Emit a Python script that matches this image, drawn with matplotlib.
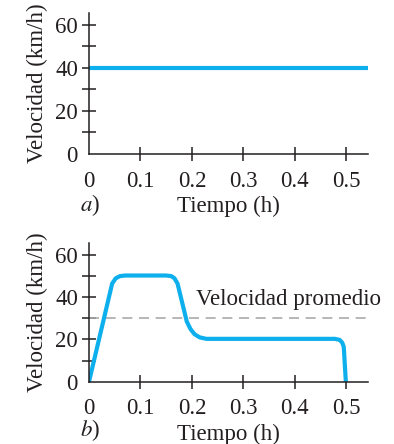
import numpy as np
import matplotlib.pyplot as plt

plt.rcParams['font.family'] = ['Liberation Serif', 'DejaVu Serif']
plt.rcParams['mathtext.fontset'] = 'stix'

# panel a: constant speed
t_a = [0.0, 0.542]
v_a = [40, 40]

# panel b: speed profile
t_b = [0.0, 0.045, 0.052, 0.060, 0.070, 0.150, 0.160, 0.166, 0.172, 0.190, 0.197, 0.205, 0.215, 0.228,
       0.478, 0.487, 0.492, 0.495, 0.499]
v_b = [0, 46.5, 49.0, 50.0, 50.3, 50.3, 50.0, 49.0, 46.5, 28.5, 25.0, 22.5, 21.0, 20.3,
       20.3, 19.8, 18.5, 16.5, 0]
v_avg = 30
t_avg = [0.0, 0.54]

xticks = [0, 0.1, 0.2, 0.3, 0.4, 0.5]
xlabels = ['0', '0.1', '0.2', '0.3', '0.4', '0.5']
yticks = [0, 20, 40, 60]

blue = '#0db0ec'
ink = '#231f20'
fs = 16.5

fig = plt.figure(figsize=(3.94, 4.44), dpi=100)
ax1 = fig.add_axes([0.2259, 0.653, 0.708, 0.3177])
ax2 = fig.add_axes([0.2259, 0.1403, 0.708, 0.3124])


def style(ax, ytop):
    for s in ['top', 'right']:
        ax.spines[s].set_visible(False)
    for s in ['left', 'bottom']:
        ax.spines[s].set_color(ink)
        ax.spines[s].set_linewidth(1.1)
    ax.set_xlim(0, 0.542)
    ax.set_ylim(0, ytop)
    ax.set_xticks(xticks)
    ax.set_xticklabels(xlabels)
    ax.set_yticks(yticks)
    ax.set_yticks([10, 30, 50], minor=True)
    ax.tick_params(direction='inout', length=10, width=1.1, color=ink, labelsize=fs,
                   labelcolor=ink)
    ax.tick_params(which='minor', direction='inout', length=10, width=1.1, color=ink)
    ax.tick_params(axis='x', pad=7)
    ax.tick_params(axis='y', pad=3)
    # no tick marks at the origin
    ax.xaxis.get_major_ticks()[0].tick1line.set_visible(False)
    ax.yaxis.get_major_ticks()[0].tick1line.set_visible(False)
    ax.set_ylabel('Velocidad (km/h)', fontsize=fs, color=ink, labelpad=5)
    ax.set_xlabel('Tiempo (h)', fontsize=fs, color=ink, labelpad=3)


style(ax1, 65.4)
style(ax2, 65.7)

ax1.plot(t_a, v_a, color=blue, lw=3, solid_capstyle='butt')
ax1.text(-0.032, -0.362, '$a$)', transform=ax1.transAxes, fontsize=fs, color=ink, va='center')

ax2.plot(t_avg, [v_avg, v_avg], color='#aaaaaa', lw=1.2, dashes=(6, 4))
ax2.plot(t_b, v_b, color=blue, lw=3, solid_joinstyle='round', solid_capstyle='butt')
ax2.text(0.207, 39, 'Velocidad promedio', fontsize=fs, color=ink, va='center')
ax2.text(-0.032, -0.348, '$b$)', transform=ax2.transAxes, fontsize=fs, color=ink, va='center')

fig.savefig('out.png', dpi=100)
